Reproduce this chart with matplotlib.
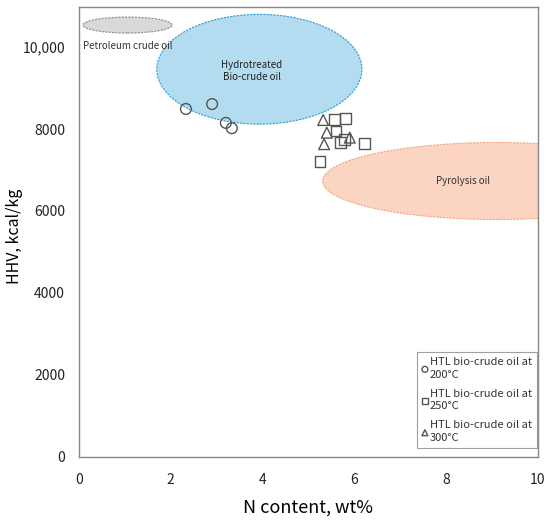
import matplotlib
matplotlib.use("Agg")
import matplotlib.pyplot as plt
from matplotlib.patches import Ellipse

plt.rcParams['font.family'] = ['Noto Sans CJK KR', 'DejaVu Sans']

# data
x200 = [2.33, 2.90, 3.20, 3.33]
y200 = [8490, 8610, 8150, 8020]
x250 = [5.56, 5.80, 5.60, 5.70, 5.79, 6.22, 5.25]
y250 = [8240, 8260, 7950, 7680, 7750, 7640, 7200]
x300 = [5.32, 5.40, 5.90, 5.34]
y300 = [8220, 7910, 7790, 7630]

regions = ["Petroleum crude oil", "Hydrotreated\nBio-crude oil", "Pyrolysis oil"]
region_cx = [1.06, 3.93, 9.10]
region_cy = [10540, 9460, 6730]
region_w = [1.94, 4.47, 7.58]
region_h = [390, 2680, 1880]
region_face = ["#D9D9D9", "#B4DCF0", "#FBD5C2"]
region_edge = ["#8C8C8C", "#2E9BD6", "#F4A582"]

yticks = [0, 2000, 4000, 6000, 8000, 10000]
ytick_labels = ["0", "2000", "4000", "6000", "8000", "10,000"]
xticks = [0, 2, 4, 6, 8, 10]

fig = plt.figure(figsize=(5.5, 5.2), dpi=100)
ax = fig.add_axes([0.1436, 0.122, 0.8345, 0.8645])

for cx, cy, w, h, fc, ec in zip(region_cx, region_cy, region_w, region_h, region_face, region_edge):
    e = Ellipse((cx, cy), w, h, facecolor=fc, edgecolor=ec, linestyle=(0, (2, 1)),
                linewidth=0.8, zorder=1)
    ax.add_patch(e)

ax.text(0.09, 10020, regions[0], fontsize=7, color="#333333", ha="left", va="center")
ax.text(3.77, 9410, regions[1], fontsize=7, color="#222222", ha="center", va="center")
ax.text(8.36, 6730, regions[2], fontsize=7, color="#333333", ha="center", va="center")

mk = dict(facecolor="none", edgecolor="#555555", linewidths=1.0, zorder=3)
ax.scatter(x200, y200, marker="o", s=60, label="HTL bio-crude oil at\n200°C", **mk)
ax.scatter(x250, y250, marker="s", s=60, label="HTL bio-crude oil at\n250°C", **mk)
ax.scatter(x300, y300, marker="^", s=60, label="HTL bio-crude oil at\n300°C", **mk)

ax.set_xlim(0, 10)
ax.set_ylim(0, 10980)
ax.set_xticks(xticks)
ax.set_xticklabels([str(t) for t in xticks])
ax.set_yticks(yticks)
ax.set_yticklabels(ytick_labels)
ax.tick_params(axis="both", length=0, labelsize=10, colors="#222222")
ax.tick_params(axis="x", pad=12)
ax.tick_params(axis="y", pad=10)
for s in ax.spines.values():
    s.set_color("#888888")
    s.set_linewidth(1.0)

ax.set_xlabel("N content, wt%", fontsize=13, labelpad=8)
ax.set_ylabel("HHV, kcal/kg", fontsize=11.5)
ax.yaxis.set_label_coords(-0.122, 0.49)

leg = ax.legend(loc="lower right", bbox_to_anchor=(0.998, 0.019), fontsize=8.0,
                frameon=True, fancybox=False, edgecolor="#888888", markerscale=0.55,
                handletextpad=0.15, handlelength=0.6, borderpad=0.45,
                labelspacing=0.8, borderaxespad=0.0)
leg.get_frame().set_linewidth(0.8)
for t in leg.get_texts():
    t.set_linespacing(1.35)
    t.set_color("#333333")

fig.savefig("out.png", dpi=100)
